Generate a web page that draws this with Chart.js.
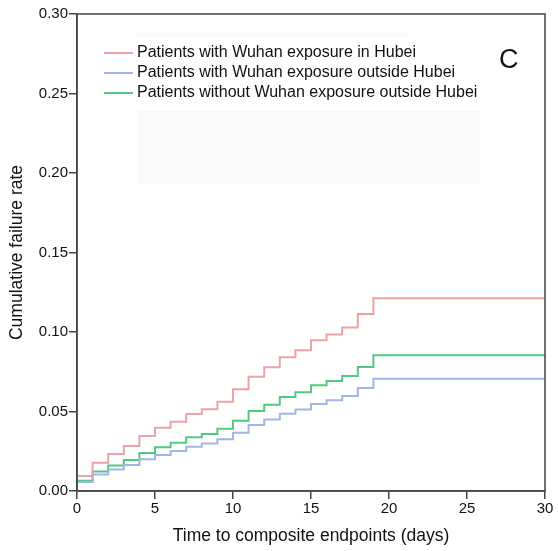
<!DOCTYPE html>
<html lang="en">
  <head>
    <meta charset="UTF-8" />
    <title>Cumulative failure rate</title>
    <script src="https://cdn.jsdelivr.net/npm/chart.js@4"></script>
    <style>
      body { margin: 0; background: #fff; font-family: 'Liberation Sans', Arial, sans-serif; }
      .wrap { position: relative; width: 558px; height: 551px; }
      .shade { position: absolute; background: #f9f9f9; }
      .legend { position: absolute; left: 104px; top: 42px; font-size: 16px; color: #111; }
      .legend div { height: 20px; line-height: 20px; white-space: nowrap; }
      .legend span { display: inline-block; width: 29px; height: 1.5px; vertical-align: middle; margin-right: 4px; }
      .tag { position: absolute; left: 499px; top: 44px; font-size: 27px; color: #111; }
      canvas { position: absolute; left: 0; top: 0; }
    </style>
  </head>
  <body>
    <div class="wrap">
      <div class="shade" style="left:137px; top:33px; width:271px; height:5px"></div>
      <div class="shade" style="left:137px; top:111px; width:343px; height:73px"></div>
      <canvas id="myChart" width="558" height="551"></canvas>
      <div class="legend">
        <div><span style="background:#eda3a3"></span>Patients with Wuhan exposure in Hubei</div>
        <div><span style="background:#a3b5e6"></span>Patients with Wuhan exposure outside Hubei</div>
        <div><span style="background:#4fcb7e"></span>Patients without Wuhan exposure outside Hubei</div>
      </div>
      <div class="tag">C</div>
    </div>
    <script>
      const days = [0, 1, 2, 3, 4, 5, 6, 7, 8, 9, 10, 11, 12, 13, 14, 15, 16, 17, 18, 19, 30];
      const inHubei = [0.0094, 0.0178, 0.0233, 0.0283, 0.0346, 0.0398, 0.0436, 0.0484, 0.0514, 0.0562, 0.064,
        0.0719, 0.0778, 0.0841, 0.0885, 0.0948, 0.0985, 0.1029, 0.1113, 0.1212, 0.1212];
      const outsideHubei = [0.0057, 0.0103, 0.0136, 0.0164, 0.0199, 0.0226, 0.0252, 0.0279, 0.0298, 0.0325, 0.0367,
        0.0415, 0.0449, 0.0486, 0.0512, 0.0547, 0.057, 0.0597, 0.0648, 0.0706, 0.0706];
      const noExposure = [0.0065, 0.0122, 0.0161, 0.0195, 0.0239, 0.0275, 0.0304, 0.0338, 0.0358, 0.0392, 0.0442,
        0.0503, 0.0543, 0.0591, 0.0621, 0.0665, 0.0692, 0.0723, 0.078, 0.0853, 0.0853];
      const yTicks = [0, 0.05, 0.1, 0.15, 0.2, 0.25, 0.3];
      const xTicks = [0, 5, 10, 15, 20, 25, 30];

      const pts = (vals) => days.map((d, i) => ({ x: d, y: vals[i] }));
      const line = (label, vals, color) => ({
        label: label,
        data: pts(vals),
        borderColor: color,
        borderWidth: 2,
        pointRadius: 0,
        stepped: true,
        fill: false,
      });

      // box around the plot area
      const frame = {
        id: 'frame',
        afterDraw(chart) {
          const { ctx, chartArea: a } = chart;
          ctx.save();
          ctx.strokeStyle = '#444';
          ctx.lineWidth = 1.5;
          ctx.strokeRect(a.left, a.top, a.right - a.left, a.bottom - a.top);
          ctx.restore();
        },
      };

      const axisFont = { family: "'Liberation Sans', Arial, sans-serif", size: 15 };
      const titleFont = { family: "'Liberation Sans', Arial, sans-serif", size: 17.5 };

      new Chart(document.getElementById('myChart'), {
        type: 'line',
        data: {
          datasets: [
            line('Patients with Wuhan exposure in Hubei', inHubei, '#eda3a3'),
            line('Patients with Wuhan exposure outside Hubei', outsideHubei, '#a3b5e6'),
            line('Patients without Wuhan exposure outside Hubei', noExposure, '#4fcb7e'),
          ],
        },
        options: {
          responsive: false,
          animation: false,
          layout: { padding: { top: 14, right: 13, left: 0, bottom: 0 } },
          plugins: { legend: { display: false }, tooltip: { enabled: false } },
          scales: {
            x: {
              type: 'linear',
              min: 0,
              max: 30,
              afterBuildTicks: (s) => { s.ticks = xTicks.map((v) => ({ value: v })); },
              afterFit: (s) => { s.height = 60; },
              ticks: { color: '#111', font: axisFont, padding: 1, maxRotation: 0 },
              grid: { drawOnChartArea: false, tickLength: 8, color: '#444', lineWidth: 1.5 },
              border: { color: '#444', width: 1.5 },
              title: { display: true, text: 'Time to composite endpoints (days)', color: '#111', font: titleFont, padding: { top: 6 } },
            },
            y: {
              min: 0,
              max: 0.3,
              afterBuildTicks: (s) => { s.ticks = yTicks.map((v) => ({ value: v })); },
              afterFit: (s) => { s.width = 77; },
              ticks: { color: '#111', font: axisFont, padding: 1, callback: (v) => v.toFixed(2) },
              grid: { drawOnChartArea: false, tickLength: 8, color: '#444', lineWidth: 1.5 },
              border: { color: '#444', width: 1.5 },
              title: { display: true, text: 'Cumulative failure rate', color: '#111', font: titleFont, padding: { top: 7, bottom: 0 } },
            },
          },
        },
        plugins: [frame],
      });
    </script>
  </body>
</html>
